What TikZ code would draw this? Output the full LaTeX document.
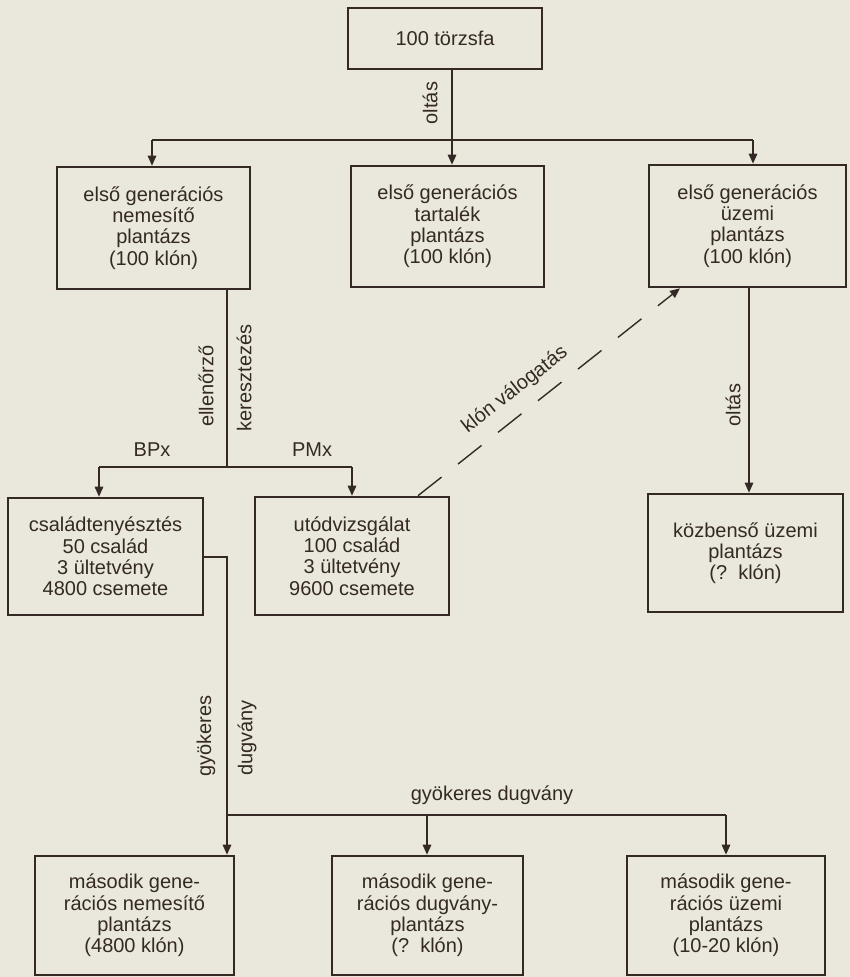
\documentclass[tikz,border=0pt]{standalone}
\usepackage{fontspec}
\setmainfont{Liberation Sans}
\usetikzlibrary{arrows.meta}
\definecolor{paper}{RGB}{234,232,221}
\definecolor{ink}{RGB}{52,41,37}
\begin{document}
\begin{tikzpicture}[x=1pt,y=-1pt,
  box/.style={draw=ink, line width=2.6pt, inner sep=0pt, align=center, text=ink,
    font=\fontsize{20}{21.3}\selectfont},
  lbl/.style={inner sep=0pt, text=ink, font=\fontsize{20}{21.3}\selectfont},
  conn/.style={draw=ink, line width=1.4pt},
  arr/.style={conn, -{Triangle[length=10pt,width=8.5pt]}}]
% page
\fill[paper] (0,0) rectangle (850,977);
\useasboundingbox (0,0) rectangle (850,977);

% boxes
\node[box, minimum width=194pt, minimum height=61pt]  (top) at (445,38.5) {100 törzsfa};
\node[box, minimum width=193pt, minimum height=122pt] (r1a) at (153.5,228) {első generációs\\nemesítő\\plantázs\\(100 klón)};
\node[box, minimum width=193pt, minimum height=121pt] (r1b) at (447.5,226.5) {első generációs\\tartalék\\plantázs\\(100 klón)};
\node[box, minimum width=197pt, minimum height=122pt] (r1c) at (747.5,226) {első generációs\\üzemi\\plantázs\\(100 klón)};
\node[box, minimum width=195pt, minimum height=117pt] (r2a) at (105.5,556.5) {családtenyésztés\\50 család\\3 ültetvény\\4800 csemete};
\node[box, minimum width=194pt, minimum height=118pt] (r2b) at (352,556) {utódvizsgálat\\100 család\\3 ültetvény\\9600 csemete};
\node[box, minimum width=195pt, minimum height=118pt] (r2c) at (745.5,553) {közbenső üzemi\\plantázs\\(?\ \ klón)};
\node[box, minimum width=199pt, minimum height=119pt] (r3a) at (134.5,915.5) {második gene-\\rációs nemesítő\\plantázs\\(4800 klón)};
\node[box, minimum width=191pt, minimum height=119pt] (r3b) at (427.5,915.5) {második gene-\\rációs dugvány-\\plantázs\\(?\ \ klón)};
\node[box, minimum width=198pt, minimum height=119pt] (r3c) at (726,915.5) {második gene-\\rációs üzemi\\plantázs\\(10-20 klón)};

% junction points of the connectors
\coordinate (j1) at (452,140);
\coordinate (hL) at (152,140);
\coordinate (hR) at (753,140);
\coordinate (j2) at (227,467);
\coordinate (bL) at (99,467);
\coordinate (bR) at (352,467);
\coordinate (s1) at (227,557);
\coordinate (j3) at (227,815);
\coordinate (dM) at (427,815);
\coordinate (dR) at (726,815);
\coordinate (oR) at (749,400);
\coordinate (kvs) at (418,0);
\coordinate (kve) at (680,0);

% first generation: grafting from the 100 trees
\draw[conn] (top.south -| j1) -- (j1);
\draw[conn] (hL) -- (hR);
\draw[arr] (hL) -- (r1a.north -| hL);
\draw[arr] (j1) -- (r1b.north -| j1);
\draw[arr] (hR) -- (r1c.north -| hR);
\node[lbl, rotate=90] (l1) at (430,103) {oltás};

% control crosses
\draw[conn] (r1a.south -| j2) -- (j2);
\draw[conn] (bL) -- (bR);
\draw[arr] (bL) -- (r2a.north -| bL);
\draw[arr] (bR) -- (r2b.north -| bR);
\node[lbl, rotate=90] (l2) at (206,386) {ellenőrző};
\node[lbl, rotate=90] (l3) at (244,378) {keresztezés};
\node[lbl] (l4) at (152,450) {BPx};
\node[lbl] (l5) at (312,450) {PMx};

% clone selection
\draw[arr, dash pattern=on 30pt off 21pt] (r2b.north -| kvs) -- (r1c.south -| kve);
\node[lbl, rotate=38] (l6) at (515,390) {klón válogatás};

% intermediate seed orchard
\draw[arr] (r1c.south -| oR) -- (r2c.north -| oR);
\node[lbl, rotate=90] (l7) at (733,405) {oltás};

% rooted cuttings to the second generation
\draw[conn] (r2a.east |- s1) -- (s1) -- (j3);
\draw[arr] (j3) -- (r3a.north -| j3);
\draw[conn] (j3) -- (dR);
\draw[arr] (dM) -- (r3b.north -| dM);
\draw[arr] (dR) -- (r3c.north -| dR);
\node[lbl, rotate=90] (l8) at (206,736) {gyökeres};
\node[lbl, rotate=90] (l9) at (247,738) {dugvány};
\node[lbl] (l10) at (492,795) {gyökeres dugvány};
\end{tikzpicture}
\end{document}
